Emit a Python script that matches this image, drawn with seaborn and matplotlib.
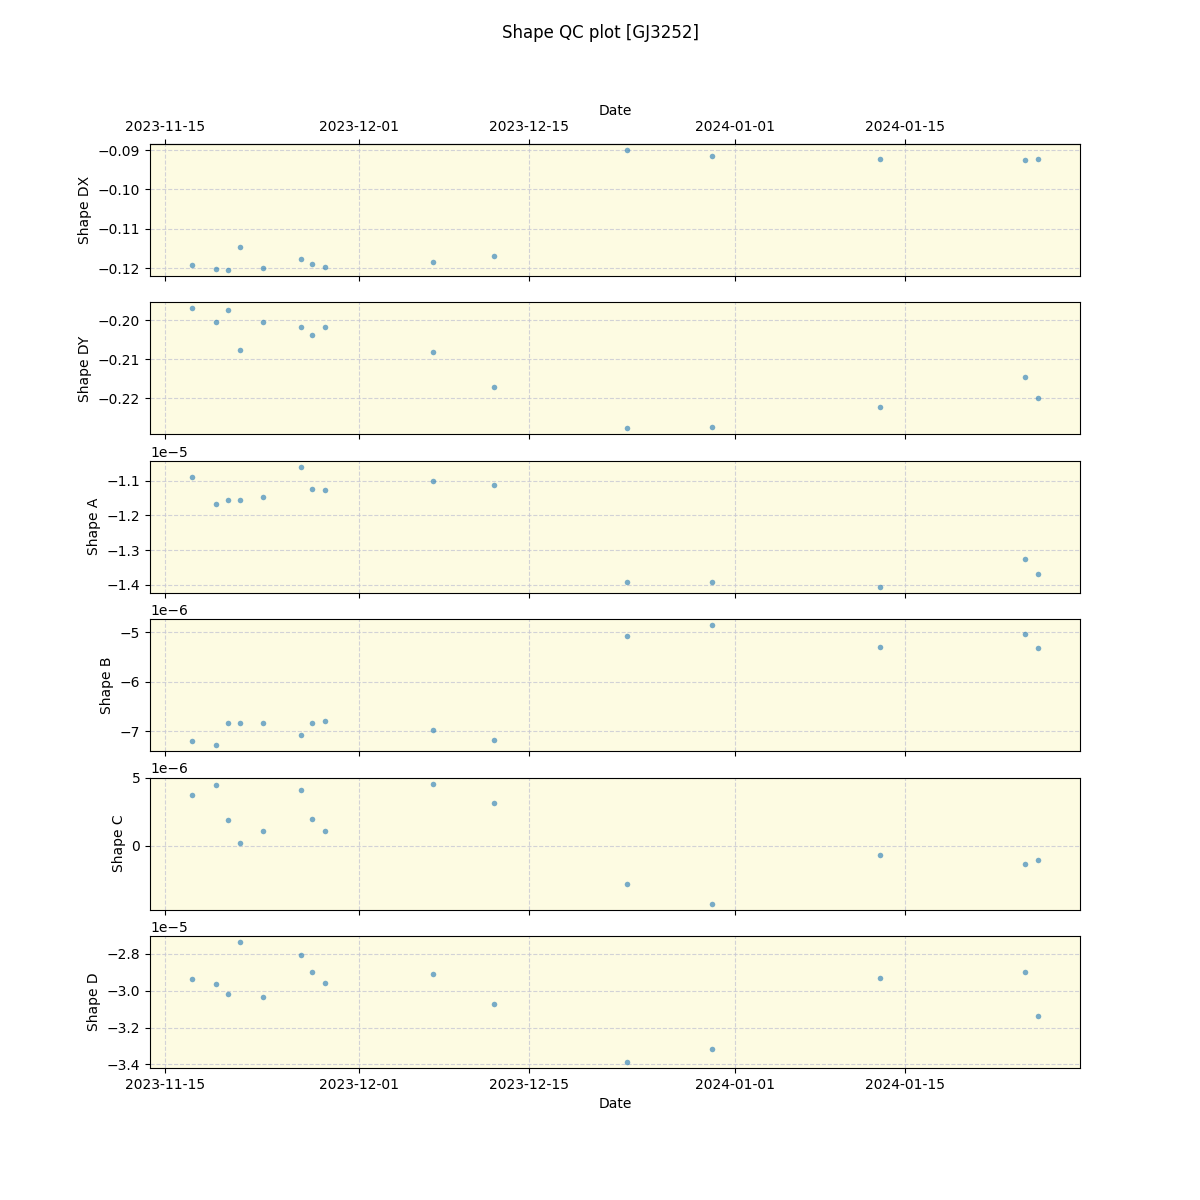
import matplotlib
matplotlib.use("Agg")
import matplotlib.pyplot as plt
import matplotlib.dates as mdates
import matplotlib.ticker as mticker
import numpy as np
import pandas as pd
import seaborn as sns

dates = [
    "2023-11-17 05:30", "2023-11-19 05:00", "2023-11-20 04:30", "2023-11-21 04:30",
    "2023-11-23 02:00", "2023-11-26 05:00", "2023-11-27 03:00", "2023-11-28 04:30",
    "2023-12-07 02:00", "2023-12-12 03:00", "2023-12-23 02:00", "2023-12-30 02:00",
    "2024-01-12 22:30", "2024-01-24 21:30", "2024-01-25 23:00",
]

shape_dx = [-0.1192, -0.1203, -0.1205, -0.1147, -0.1200, -0.1177, -0.1190, -0.1197,
            -0.1185, -0.1169, -0.0900, -0.0915, -0.0923, -0.0925, -0.0923]
shape_dy = [-0.1969, -0.2005, -0.1974, -0.2077, -0.2003, -0.2018, -0.2036, -0.2018,
            -0.2082, -0.2172, -0.2277, -0.2274, -0.2223, -0.2144, -0.2200]
shape_a = [-1.0885e-5, -1.166e-5, -1.155e-5, -1.157e-5, -1.146e-5, -1.060e-5, -1.123e-5,
           -1.126e-5, -1.100e-5, -1.112e-5, -1.391e-5, -1.391e-5, -1.406e-5, -1.326e-5,
           -1.369e-5]
shape_b = [-7.20e-6, -7.28e-6, -6.84e-6, -6.84e-6, -6.84e-6, -7.08e-6, -6.84e-6, -6.80e-6,
           -6.98e-6, -7.18e-6, -5.08e-6, -4.86e-6, -5.30e-6, -5.04e-6, -5.32e-6]
shape_c = [3.75e-6, 4.49e-6, 1.91e-6, 0.22e-6, 1.10e-6, 4.12e-6, 1.99e-6, 1.10e-6,
           4.56e-6, 3.16e-6, -2.79e-6, -4.26e-6, -0.66e-6, -1.32e-6, -1.03e-6]
shape_d = [-2.936e-5, -2.964e-5, -3.016e-5, -2.735e-5, -3.033e-5, -2.805e-5, -2.898e-5,
           -2.958e-5, -2.909e-5, -3.071e-5, -3.387e-5, -3.316e-5, -2.930e-5, -2.898e-5,
           -3.136e-5]

labels = ["Shape DX", "Shape DY", "Shape A", "Shape B", "Shape C", "Shape D"]
series = [shape_dx, shape_dy, shape_a, shape_b, shape_c, shape_d]

df = pd.DataFrame({"Date": pd.to_datetime(dates)})
for lab, vals in zip(labels, series):
    df[lab] = vals

fig, axes = plt.subplots(6, 1, figsize=(12, 12), dpi=100, sharex=True)
fig.suptitle("Shape QC plot [GJ3252]", y=0.98)

for ax, lab in zip(axes, labels):
    ax.set_facecolor("#fdfbe2")
    sns.scatterplot(data=df, x="Date", y=lab, ax=ax, s=16, alpha=0.6,
                    color="tab:blue", linewidth=0, zorder=3)
    ax.grid(True, linestyle="--", color="#c8c8d4", alpha=0.8, zorder=0)
    ax.set_axisbelow(True)
    ax.set_ylabel(lab)
    ax.set_xlabel("")

axes[4].yaxis.set_major_locator(mticker.MultipleLocator(5e-6))

axes[-1].set_xlabel("Date")
axes[-1].xaxis.set_major_locator(mdates.DayLocator(bymonthday=[1, 15]))
axes[-1].xaxis.set_major_formatter(mdates.DateFormatter("%Y-%m-%d"))

sec = axes[0].secondary_xaxis("top")
sec.xaxis.set_major_locator(mdates.DayLocator(bymonthday=[1, 15]))
sec.xaxis.set_major_formatter(mdates.DateFormatter("%Y-%m-%d"))
sec.set_xlabel("Date")

fig.savefig("out.png", dpi=100)
